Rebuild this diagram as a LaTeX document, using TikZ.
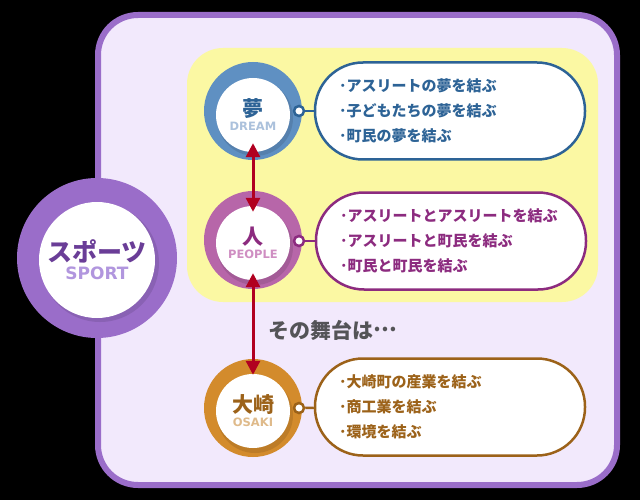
\documentclass[tikz,border=0pt]{standalone}
\usepackage{fontspec}
\setmainfont{Noto Sans CJK JP}
\newfontfamily\latfont{DejaVu Sans}[BoldFont={DejaVu Sans Bold}]
\usetikzlibrary{arrows.meta,positioning}
\definecolor{frame}{HTML}{9A6DC9}
\definecolor{lavender}{HTML}{F2E9FC}
\definecolor{highlight}{HTML}{FBF8A3}
\definecolor{dreamc}{HTML}{5F90C2}
\definecolor{dreamd}{HTML}{2D6396}
\definecolor{dreaml}{HTML}{ABC1DC}
\definecolor{peoplec}{HTML}{B766A9}
\definecolor{peopled}{HTML}{8C2B7F}
\definecolor{peoplel}{HTML}{CF8EC2}
\definecolor{osakic}{HTML}{D38B2C}
\definecolor{osakid}{HTML}{9C6219}
\definecolor{osakil}{HTML}{DFBA8A}
\definecolor{sportd}{HTML}{6A3D97}
\definecolor{sportl}{HTML}{B196DE}
\definecolor{linkred}{HTML}{B10020}
\definecolor{stagegray}{HTML}{545457}

\begin{document}
\begin{tikzpicture}[x=1pt, y=-1pt,
  ring/.style={circle, fill=#1, minimum size=98pt, inner sep=0pt},
  shade/.style={circle, fill=#1!70!black, opacity=0.35, minimum size=76pt, inner sep=0pt},
  hole/.style={circle, fill=white, minimum size=74pt, inner sep=0pt, align=center, font=\bfseries},
  pill/.style={rectangle, rounded corners=48pt, draw=#1, line width=2.5pt, fill=white,
    minimum width=270pt, minimum height=97pt, text width=222pt, align=left, text=#1,
    font=\fontsize{15}{25}\selectfont\bfseries},
  dot/.style={circle, draw=#1, line width=2.5pt, fill=white, minimum size=10pt, inner sep=0pt},
  link/.style={draw=#1, line width=2.5pt},
  both/.style={{Triangle[width=14pt,length=14pt]}-{Triangle[width=14pt,length=14pt]},
    line width=3pt, draw=linkred},
  kanji/.style={font=\fontsize{#1}{#1}\selectfont\bfseries}
]
\fill[black] (0,0) rectangle (640,500);
\useasboundingbox (0,0) rectangle (640,500);

\draw[draw=frame, line width=6pt, fill=lavender, rounded corners=40pt] (98,15) rectangle (617,485);
\fill[highlight, rounded corners=36pt] (187,48) rectangle (598,302);

% sport
\node[ring=frame, minimum size=160pt] (sport) at (97,258) {};
\node[shade=frame, minimum size=118pt] at (100,263) {};
\node[hole, minimum size=116pt] (sporthole) at (97,260)
  {\textcolor{sportd}{\fontsize{25}{28}\selectfont スポーツ}\\[3pt]
   \textcolor{sportl}{\latfont\bfseries\fontsize{17}{18}\selectfont SPORT}};

% dream
\node[ring=dreamc] (dream) at (253,111) {};
\node[shade=dreamc] at (255,118) {};
\node[hole] (dreamhole) at (253,115)
  {\textcolor{dreamd}{\fontsize{21}{23}\selectfont 夢}\\[2pt]
   \textcolor{dreaml}{\latfont\bfseries\fontsize{11.5}{12}\selectfont DREAM}};
\node[dot=dreamd] (dreamdot) at (299,111) {};
\node[pill=dreamd] (dreampill) at (450,111)
  {･アスリートの夢を結ぶ\\･子どもたちの夢を結ぶ\\･町民の夢を結ぶ};
\draw[link=dreamd] (dreamdot) -- (dreampill);

% people
\node[ring=peoplec] (people) at (253,240) {};
\node[shade=peoplec] at (255,247) {};
\node[hole] (peoplehole) at (253,243)
  {\textcolor{peopled}{\fontsize{21}{23}\selectfont 人}\\[2pt]
   \textcolor{peoplel}{\latfont\bfseries\fontsize{11.5}{12}\selectfont PEOPLE}};
\node[dot=peopled] (peopledot) at (299,241) {};
\node[pill=peopled] (peoplepill) at (451,241)
  {･アスリートとアスリートを結ぶ\\･アスリートと町民を結ぶ\\･町民と町民を結ぶ};
\draw[link=peopled] (peopledot) -- (peoplepill);

% osaki
\node[ring=osakic] (osaki) at (253,408) {};
\node[shade=osakic] at (255,415) {};
\node[hole] (osakihole) at (253,411)
  {\textcolor{osakid}{\fontsize{21}{23}\selectfont 大崎}\\[2pt]
   \textcolor{osakil}{\latfont\bfseries\fontsize{11.5}{12}\selectfont OSAKI}};
\node[dot=osakid] (osakidot) at (299,408) {};
\node[pill=osakid] (osakipill) at (450,407)
  {･大崎町の産業を結ぶ\\･商工業を結ぶ\\･環境を結ぶ};
\draw[link=osakid] (osakidot) -- (osakipill);

\node[kanji=21, text=stagegray] (stage) at (333,330) {その舞台は\raisebox{0.3em}{…}};

\draw[both, shorten <=-9pt, shorten >=-6pt] (dreamhole.south) -- (peoplehole.north);
\draw[both, shorten <=-7pt, shorten >=-1pt] (peoplehole.south) -- (osakihole.north);
\end{tikzpicture}
\end{document}
